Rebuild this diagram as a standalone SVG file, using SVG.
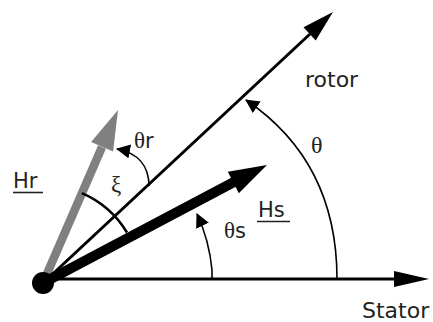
<svg xmlns="http://www.w3.org/2000/svg" width="433" height="322" viewBox="0 0 433 322">
<style>
.sans{font-family:"DejaVu Sans","Liberation Sans",sans-serif;fill:#222}
.serif{font-family:"Liberation Serif","DejaVu Serif",serif;fill:#222}
.arc{fill:none;stroke:#000;stroke-width:1.6}
.ul{stroke:#222;stroke-width:1.6}
</style>
<defs>
<marker id="ah" markerUnits="userSpaceOnUse" markerWidth="18" markerHeight="16" refX="13" refY="7" orient="auto" viewBox="0 0 18 16">
<path d="M0,0 L14,7 L0,14 Z" fill="#000"/>
</marker>
</defs>
<rect width="433" height="322" fill="#fff"/>
<g id="connectors">
<g id="Hr-vector">
<line x1="43" y1="283" x2="102" y2="147" stroke="#808080" stroke-width="8.5"/>
<polygon points="118,110 113.1,151.5 91.1,141.9" fill="#808080"/>
</g>
<g id="stator-axis">
<line x1="43" y1="279" x2="400" y2="279" stroke="#000" stroke-width="3"/>
<polygon points="429,279 394,271 394,287" fill="#000"/>
</g>
<g id="rotor-axis">
<line x1="43" y1="283" x2="310" y2="34" stroke="#000" stroke-width="3"/>
<polygon points="333,12 315.7,40.4 303.5,27.2" fill="#000"/>
</g>
<g id="Hs-vector">
<line x1="43" y1="283" x2="234" y2="182" stroke="#000" stroke-width="10"/>
<polygon points="267,165 238.8,193.2 227.8,171.8" fill="#000"/>
</g>
<path id="theta-arc" class="arc" d="M337,279 C337,200 305,140 246,100" marker-end="url(#ah)"/>
<path id="thetas-arc" class="arc" d="M212,279 L212,270 A169,169 0 0 0 197,214" marker-end="url(#ah)"/>
<path id="thetar-arc" class="arc" d="M149,186 C149,166 138,153 117,149" marker-end="url(#ah)"/>
<path id="xi-arc" d="M81.9,193.1 A98,98 0 0 1 127,232.5" fill="none" stroke="#000" stroke-width="2.6"/>
</g>
<g id="origin"><circle cx="43" cy="283" r="11" fill="#000"/></g>
<g id="label-rotor"><text class="sans" x="305" y="87" font-size="22">rotor</text></g>
<g id="label-stator"><text class="sans" x="362" y="318" font-size="22">Stator</text></g>
<g id="label-theta"><text class="serif" x="311" y="153" font-size="24">θ</text></g>
<g id="label-thetar"><text x="134" y="148" font-size="23"><tspan class="serif">θ</tspan><tspan class="sans" font-size="21">r</tspan></text></g>
<g id="label-thetas"><text x="224" y="238" font-size="23"><tspan class="serif">θ</tspan><tspan class="sans" font-size="21">s</tspan></text></g>
<g id="label-xi"><text class="serif" x="111" y="192" font-size="23">ξ</text></g>
<g id="label-Hr"><text class="sans" x="13" y="188" font-size="21">Hr</text><line class="ul" x1="13" y1="192.5" x2="43" y2="192.5"/></g>
<g id="label-Hs"><text class="sans" x="258" y="217" font-size="21">Hs</text><line class="ul" x1="257" y1="221.5" x2="290" y2="221.5"/></g>
</svg>
